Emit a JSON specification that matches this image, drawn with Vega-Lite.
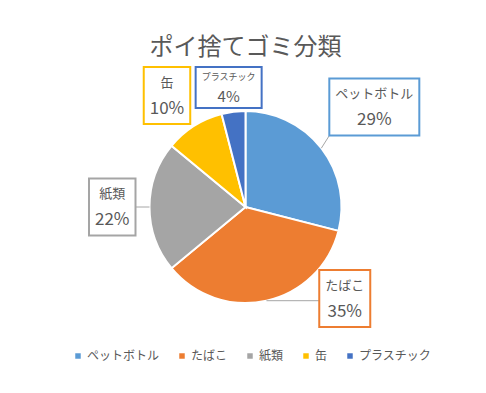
{
  "$schema": "https://vega.github.io/schema/vega-lite/v6.json",
  "width": 481,
  "height": 294,
  "autosize": {"type": "none"},
  "padding": {"top": 60, "left": 5, "right": 0, "bottom": 39},
  "background": "white",
  "config": {"font": "Noto Sans CJK JP", "view": {"stroke": null}},
  "title": {
    "text": "ポイ捨てゴミ分類",
    "fontSize": 24,
    "font": "Noto Sans CJK JP",
    "fontWeight": "normal",
    "color": "#595959",
    "anchor": "middle",
    "baseline": "alphabetic",
    "offset": -19
  },
  "data": {
    "values": [
      {"name": "ペットボトル", "value": 29},
      {"name": "たばこ", "value": 35},
      {"name": "紙類", "value": 22},
      {"name": "缶", "value": 10},
      {"name": "プラスチック", "value": 4}
    ]
  },
  "transform": [
    {"window": [{"op": "row_number", "as": "idx"}, {"op": "sum", "field": "value", "as": "cum"}], "frame": [null, 0]},
    {"joinaggregate": [{"op": "sum", "field": "value", "as": "total"}]},
    {"calculate": "datum.value / datum.total", "as": "frac"},
    {"calculate": "format(datum.frac, '.0%')", "as": "pct"},
    {"calculate": "2 * PI * (datum.cum - datum.value / 2) / datum.total", "as": "ang"},
    {"calculate": "datum.frac < 0.05", "as": "small"},
    {"calculate": "max(length(datum.name) * (datum.small ? 9 : 13), length(datum.pct) * 11.5) + 12", "as": "bw"},
    {"calculate": "datum.small ? 41 : 57", "as": "bh"},
    {"calculate": "sin(datum.ang)", "as": "sa"},
    {"calculate": "cos(datum.ang)", "as": "ca"},
    {"calculate": "96 + 14 + abs(datum.sa) * datum.bw / 2 + abs(datum.ca) * datum.bh / 2", "as": "dist"},
    {"calculate": "clamp(-datum.dist * datum.ca, -140 + datum.bh / 2, 120 - datum.bh / 2)", "as": "cy"},
    {"calculate": "abs(datum.cy) <= datum.bh / 2 ? 0 : abs(datum.cy) - datum.bh / 2", "as": "nyy"},
    {"calculate": "datum.nyy >= 97 ? 0 : datum.bw / 2 + sqrt(97 * 97 - datum.nyy * datum.nyy)", "as": "req"},
    {"calculate": "datum.sa >= 0 ? max(datum.dist * datum.sa, datum.req) : -max(-datum.dist * datum.sa, datum.req)", "as": "cx"},
    {"calculate": "datum.cx - datum.bw / 2", "as": "bx0"},
    {"calculate": "datum.cx + datum.bw / 2", "as": "bx1"},
    {"calculate": "datum.cy - datum.bh / 2", "as": "by0"},
    {"calculate": "datum.cy + datum.bh / 2", "as": "by1"},
    {"calculate": "96 * datum.sa", "as": "px"},
    {"calculate": "-96 * datum.ca", "as": "py"},
    {"calculate": "clamp(datum.px, datum.bx0, datum.bx1)", "as": "qx"},
    {"calculate": "clamp(datum.py, datum.by0, datum.by1)", "as": "qy"},
    {"calculate": "sqrt(pow(datum.qx - datum.px, 2) + pow(datum.qy - datum.py, 2))", "as": "lead"},
    {"calculate": "datum.cy - (datum.small ? 10.5 : 13)", "as": "ty1"},
    {"calculate": "datum.cy + (datum.small ? 9.5 : 13)", "as": "ty2"}
  ],
  "layer": [
    {
      "mark": {"type": "arc", "radius": 96, "stroke": "white", "strokeWidth": 2},
      "encoding": {
        "theta": {"field": "value", "type": "quantitative", "stack": true},
        "order": {"field": "idx", "type": "quantitative"},
        "color": {
          "field": "name",
          "type": "nominal",
          "scale": {
            "domain": ["ペットボトル", "たばこ", "紙類", "缶", "プラスチック"],
            "range": ["#5B9BD5", "#ED7D31", "#A5A5A5", "#FFC000", "#4472C4"]
          },
          "legend": {
            "orient": "none",
            "legendX": 67,
            "legendY": 290,
            "direction": "horizontal",
            "title": null,
            "symbolType": "square",
            "symbolSize": 30,
            "symbolStrokeWidth": 0,
            "labelFontSize": 12,
            "labelFont": "Noto Sans CJK JP",
            "labelColor": "#595959",
            "columnPadding": 16,
            "labelOffset": 3,
            "padding": 0
          }
        }
      }
    },
    {
      "transform": [{"filter": "datum.lead > 7.5"}],
      "mark": {"type": "rule", "color": "#A6A6A6", "strokeWidth": 1},
      "encoding": {
        "x": {"field": "px", "type": "quantitative", "scale": {"domain": [-240.5, 240.5], "nice": false, "zero": false}, "axis": null},
        "y": {"field": "py", "type": "quantitative", "scale": {"domain": [-147, 147], "reverse": true, "nice": false, "zero": false}, "axis": null},
        "x2": {"field": "qx"},
        "y2": {"field": "qy"}
      }
    },
    {
      "mark": {"type": "rect", "fill": "white", "strokeWidth": 2},
      "encoding": {
        "x": {"field": "bx0", "type": "quantitative"},
        "x2": {"field": "bx1"},
        "y": {"field": "by0", "type": "quantitative"},
        "y2": {"field": "by1"},
        "stroke": {
          "field": "name",
          "type": "nominal",
          "scale": {
            "domain": ["ペットボトル", "たばこ", "紙類", "缶", "プラスチック"],
            "range": ["#5B9BD5", "#ED7D31", "#A5A5A5", "#FFC000", "#4472C4"]
          },
          "legend": null
        }
      }
    },
    {
      "mark": {"type": "text", "align": "center", "baseline": "middle", "color": "#595959", "font": "Noto Sans CJK JP"},
      "encoding": {
        "x": {"field": "cx", "type": "quantitative"},
        "y": {"field": "ty1", "type": "quantitative"},
        "text": {"field": "name"},
        "size": {"condition": {"test": "datum.small", "value": 9}, "value": 13}
      }
    },
    {
      "mark": {"type": "text", "align": "center", "baseline": "middle", "color": "#595959", "font": "Noto Sans CJK JP", "fontSize": 17},
      "encoding": {
        "x": {"field": "cx", "type": "quantitative"},
        "y": {"field": "ty2", "type": "quantitative"},
        "text": {"field": "pct"},
        "size": {"condition": {"test": "datum.small", "value": 15}, "value": 17}
      }
    }
  ]
}
